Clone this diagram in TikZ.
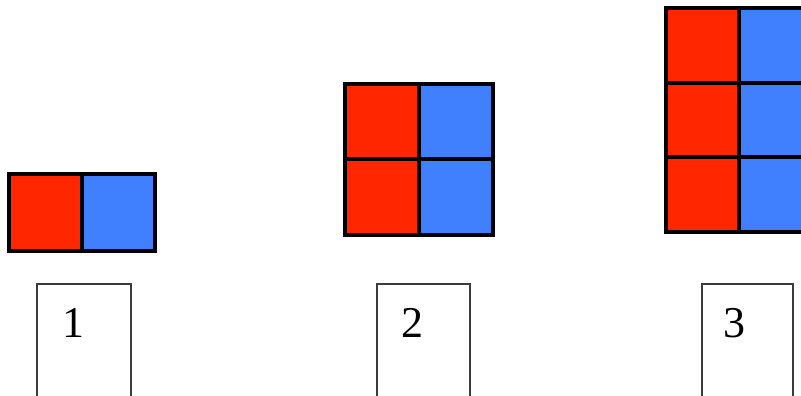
\documentclass[tikz,border=0pt]{standalone}
\usepackage{fontspec}
\setmainfont{Liberation Serif}
\definecolor{cellred}{RGB}{255,38,0}
\definecolor{cellblue}{RGB}{64,128,255}
\definecolor{boxgray}{RGB}{60,60,60}
\tikzset{
  redcell/.style={fill=cellred,draw=black,line width=4pt},
  bluecell/.style={fill=cellblue,draw=black,line width=4pt},
  labelbox/.style={draw=boxgray,line width=1.6pt,fill=white},
  digit/.style={font=\fontsize{44}{44}\selectfont,inner sep=0pt,text=black}
}
\begin{document}
\begin{tikzpicture}[x=1pt,y=-1pt]
\useasboundingbox (0,0) rectangle (801,396);
\clip (0,0) rectangle (801,396);
% pattern 1
\draw[redcell] (9,174) rectangle (82,251);
\draw[bluecell] (82,174) rectangle (155,251);
% pattern 2
\draw[redcell] (345,84) rectangle (419,159);
\draw[redcell] (345,159) rectangle (419,235);
\draw[bluecell] (419,84) rectangle (493,159);
\draw[bluecell] (419,159) rectangle (493,235);
% pattern 3
\draw[redcell] (666,8) rectangle (739,83);
\draw[redcell] (666,83) rectangle (739,157);
\draw[redcell] (666,157) rectangle (739,232);
\draw[bluecell] (739,8) rectangle (812,83);
\draw[bluecell] (739,83) rectangle (812,157);
\draw[bluecell] (739,157) rectangle (812,232);
% label boxes
\draw[labelbox] (37,284) rectangle (131,420);
\draw[labelbox] (377,284) rectangle (470,420);
\draw[labelbox] (702,284) rectangle (793,420);
\node[digit] (n1) at (73,323) {1};
\node[digit] (n2) at (412,323) {2};
\node[digit] (n3) at (734,323) {3};
\end{tikzpicture}
\end{document}
